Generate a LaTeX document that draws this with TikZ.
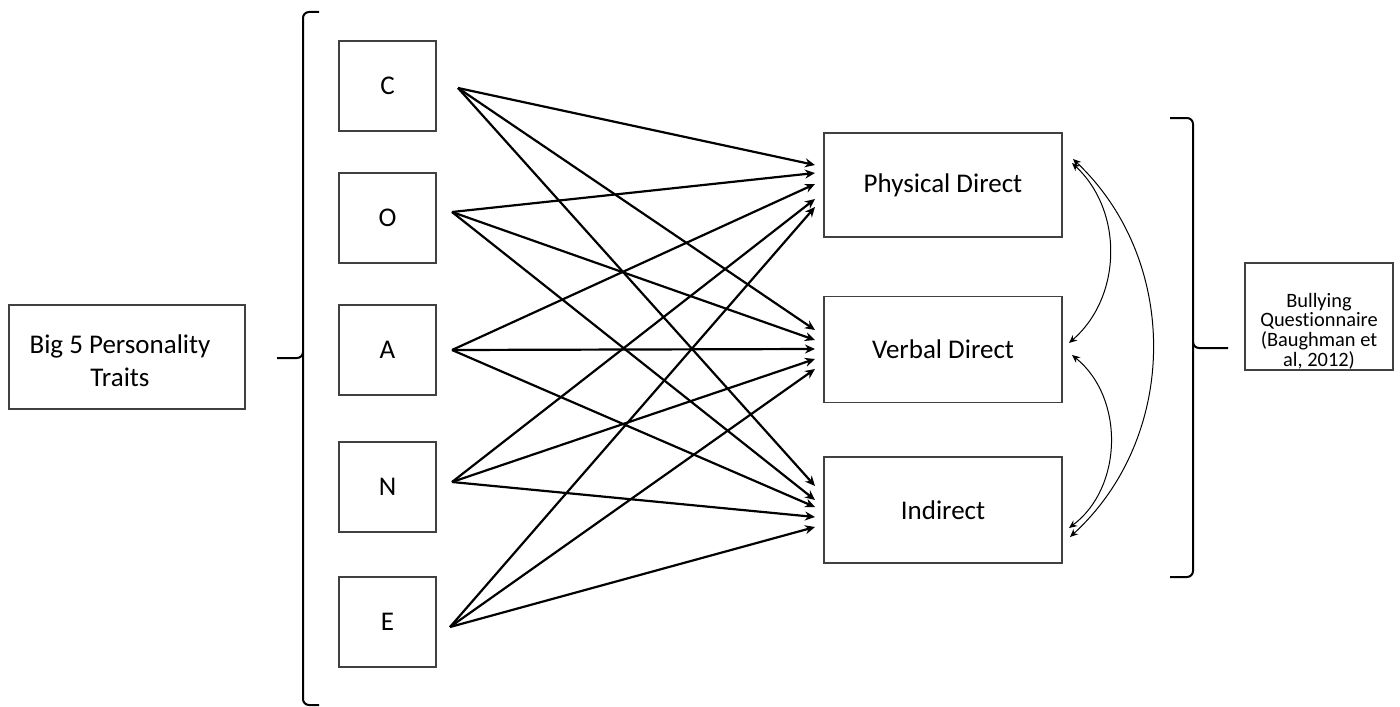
\documentclass[tikz,border=0pt]{standalone}
\usepackage{fontspec}
\setmainfont{Carlito}[Ligatures=NoCommon]
\usetikzlibrary{arrows.meta}

\begin{document}
\begin{tikzpicture}[x=0.5pt,y=-0.5pt,>={Stealth[length=5pt,width=4.5pt]},
                    box/.style={draw=black!75,line width=0.7pt,align=center,
                                font=\fontsize{13.5}{15.5}\selectfont},
                    trait/.style={box,minimum width=48.5pt,minimum height=45pt},
                    kind/.style={box,minimum width=119pt,minimum height=53pt},
                    link/.style={->,line width=1.1pt},
                    corr/.style={<->,line width=0.5pt,
                                 >={Stealth[length=4pt,width=3.5pt]}},
                    brace/.style={line width=1pt,rounded corners=3pt}]
  \useasboundingbox (0,0) rectangle (1400,706);

  % left side
  \node[box,minimum width=118pt,minimum height=52pt] (big5) at (127,357) {};
  \node[align=center,font=\fontsize{13.5}{16.5}\selectfont] (big5text)
       at (120,361) {Big 5 Personality\\Traits};
  \node[trait] (C) at (387.5,86)  {C};
  \node[trait] (O) at (387.5,218) {O};
  \node[trait] (A) at (387.5,350) {A};
  \node[trait] (N) at (387.5,487) {N};
  \node[trait] (E) at (387.5,622) {E};

  % right side
  \node[kind,minimum height=52pt] (phys) at (943,185) {Physical Direct};
  \node[kind] (verb) at (943,349.5) {Verbal Direct};
  \node[kind] (indir) at (943,510) {Indirect};
  \node[box,minimum width=74pt,minimum height=53.5pt] (bully) at (1319,316.5) {};
  \node[align=center,font=\fontsize{10.2}{9.8}\selectfont] (bullytext)
       at (1319,331) {Bullying\\Questionnaire\\(Baughman et\\al, 2012)};

  % braces
  \draw[brace] (319,12) -| (303,358) -- (277,358);
  \draw[brace] (303,352) |- (319,705);
  \draw[brace] (1170,118) -| (1193,348) -- (1228,348);
  \draw[brace] (1193,342) |- (1170,577);

  % start and end points of the arrows
  \coordinate (sC) at (458,88);
  \coordinate (sO) at (452,212);
  \coordinate (sA) at (452,350);
  \coordinate (sN) at (452,482);
  \coordinate (sE) at (450,627);

  \coordinate (pC) at (815,165);
  \coordinate (pO) at (815,173);
  \coordinate (pA) at (815,184);
  \coordinate (pN) at (815,199);
  \coordinate (pE) at (815,207);
  \coordinate (vC) at (815,330);
  \coordinate (vO) at (815,340);
  \coordinate (vA) at (815,349);
  \coordinate (vN) at (815,359);
  \coordinate (vE) at (815,369);
  \coordinate (iC) at (815,486);
  \coordinate (iO) at (815,500);
  \coordinate (iA) at (815,507);
  \coordinate (iN) at (815,517);
  \coordinate (iE) at (815,527);

  \path[link] (sC) edge (pC)
                   edge (vC)
                   edge (iC)
              (sO) edge (pO)
                   edge (vO)
                   edge (iO)
              (sA) edge (pA)
                   edge (vA)
                   edge (iA)
              (sN) edge (pN)
                   edge (vN)
                   edge (iN)
              (sE) edge (pE)
                   edge (vE)
                   edge (iE);

  % correlations
  \coordinate (cp1) at (1072,163);
  \coordinate (cp2) at (1073,159);
  \coordinate (cv1) at (1069,343);
  \coordinate (cv2) at (1072,355);
  \coordinate (ci1) at (1069,528);
  \coordinate (ci2) at (1070,537);

  \path[corr] (cp1) edge[bend left=48] (cv1)
              (cv2) edge[bend left=52] (ci1)
              (cp2) edge[bend left=47] (ci2);
\end{tikzpicture}
\end{document}
